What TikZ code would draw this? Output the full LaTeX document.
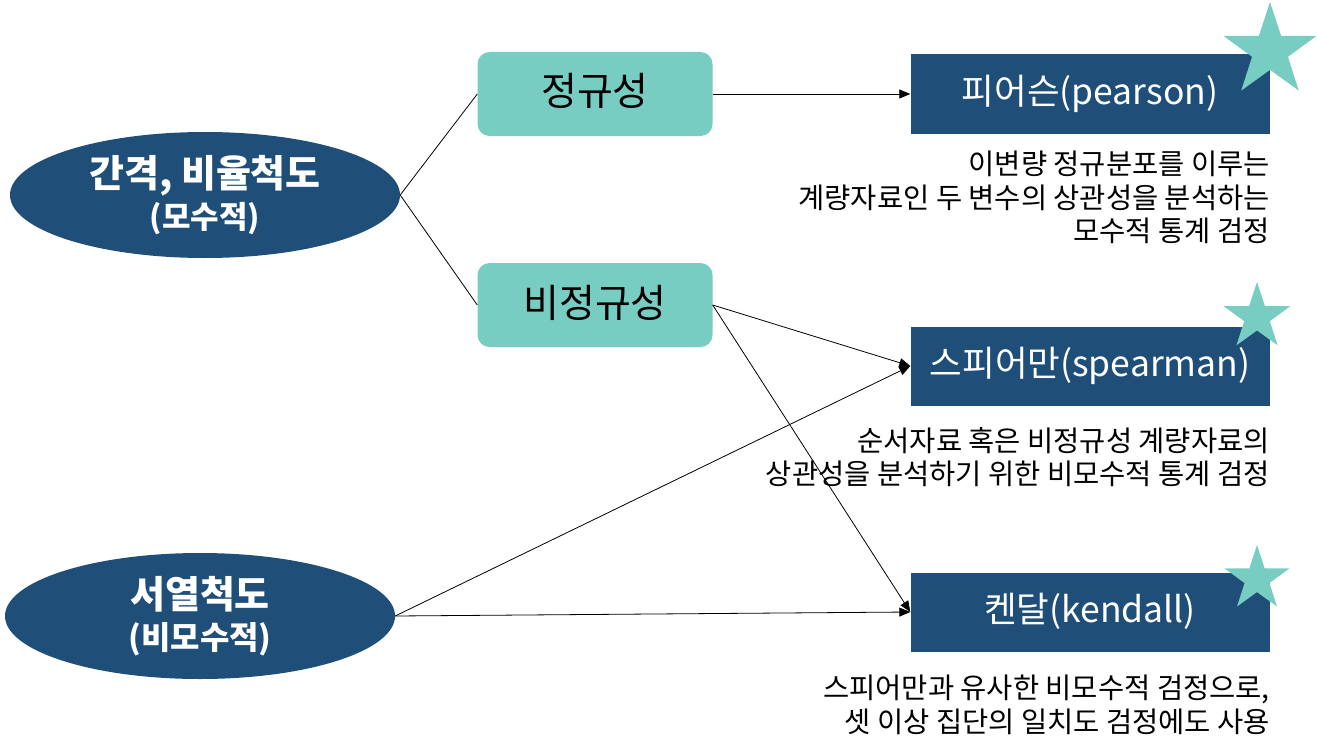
\documentclass[tikz,border=0pt]{standalone}
\usepackage{fontspec}
\setmainfont{Noto Sans CJK KR}
\usetikzlibrary{shapes.geometric,arrows.meta}
\definecolor{navy}{HTML}{1F4E79}
\definecolor{tealc}{HTML}{78CDC3}
\tikzset{
  scalenode/.style={ellipse, fill=navy, text=white, minimum width=390pt, minimum height=126pt, inner sep=0pt, align=center, font=\fontsize{38}{41}\selectfont\bfseries},
  testbox/.style={rectangle, fill=tealc, rounded corners=12pt, minimum width=235pt, minimum height=84pt, text height=30pt, text depth=6pt, font=\fontsize{39}{44}\selectfont},
  methodbox/.style={rectangle, fill=navy, text=white, minimum width=359pt, minimum height=79pt, text height=27pt, text depth=6pt, font=\fontsize{35.5}{40}\selectfont},
  desc/.style={align=right, anchor=north east, inner sep=0pt, font=\fontsize{28.5}{33.5}\selectfont},
  mark5/.style={star, star points=5, star point ratio=2.6, fill=tealc, inner sep=0pt},
  conn/.style={draw=black, line width=0.8pt},
  arr/.style={conn, -{Triangle[length=11pt,width=9pt]}}
}
\begin{document}
\begin{tikzpicture}[x=1pt,y=-1pt]
\useasboundingbox (0,0) rectangle (1317,752);
\node[scalenode] (e1) at (205,195) {간격, 비율척도\\{\fontsize{31}{41}\selectfont (모수적)}};
\node[scalenode] (e2) at (200,616) {서열척도\\{\fontsize{32}{41}\selectfont (비모수적)}};
\node[testbox] (n1) at (595,94) {정규성};
\node[testbox] (n2) at (595,305) {비정규성};
\node[methodbox] (p) at (1090,94) {피어슨(pearson)};
\node[methodbox] (s) at (1090,366) {스피어만(spearman)};
\node[methodbox] (k) at (1090,612) {켄달(kendall)};
\node[mark5, minimum size=98pt] (st1) at (1270,51) {};
\node[mark5, minimum size=70pt] (st2) at (1257,317) {};
\node[mark5, minimum size=68pt] (st3) at (1257,579) {};
\node[desc] (d1) at (1270,151) {이변량 정규분포를 이루는\\계량자료인 두 변수의 상관성을 분석하는\\모수적 통계 검정};
\node[desc] (d2) at (1270,427) {순서자료 혹은 비정규성 계량자료의\\상관성을 분석하기 위한 비모수적 통계 검정};
\node[desc] (d3) at (1270,675) {스피어만과 유사한 비모수적 검정으로,\\셋 이상 집단의 일치도 검정에도 사용};
\draw[conn] (e1.east) -- (n1.west);
\draw[conn] (e1.east) -- (n2.west);
\draw[arr] (n1.east) -- (p.west);
\draw[arr] (n2.east) -- (s.west);
\draw[arr] (n2.east) -- (k.west);
\draw[arr] (e2.east) -- (s.west);
\draw[arr] (e2.east) -- (k.west);
\end{tikzpicture}
\end{document}
